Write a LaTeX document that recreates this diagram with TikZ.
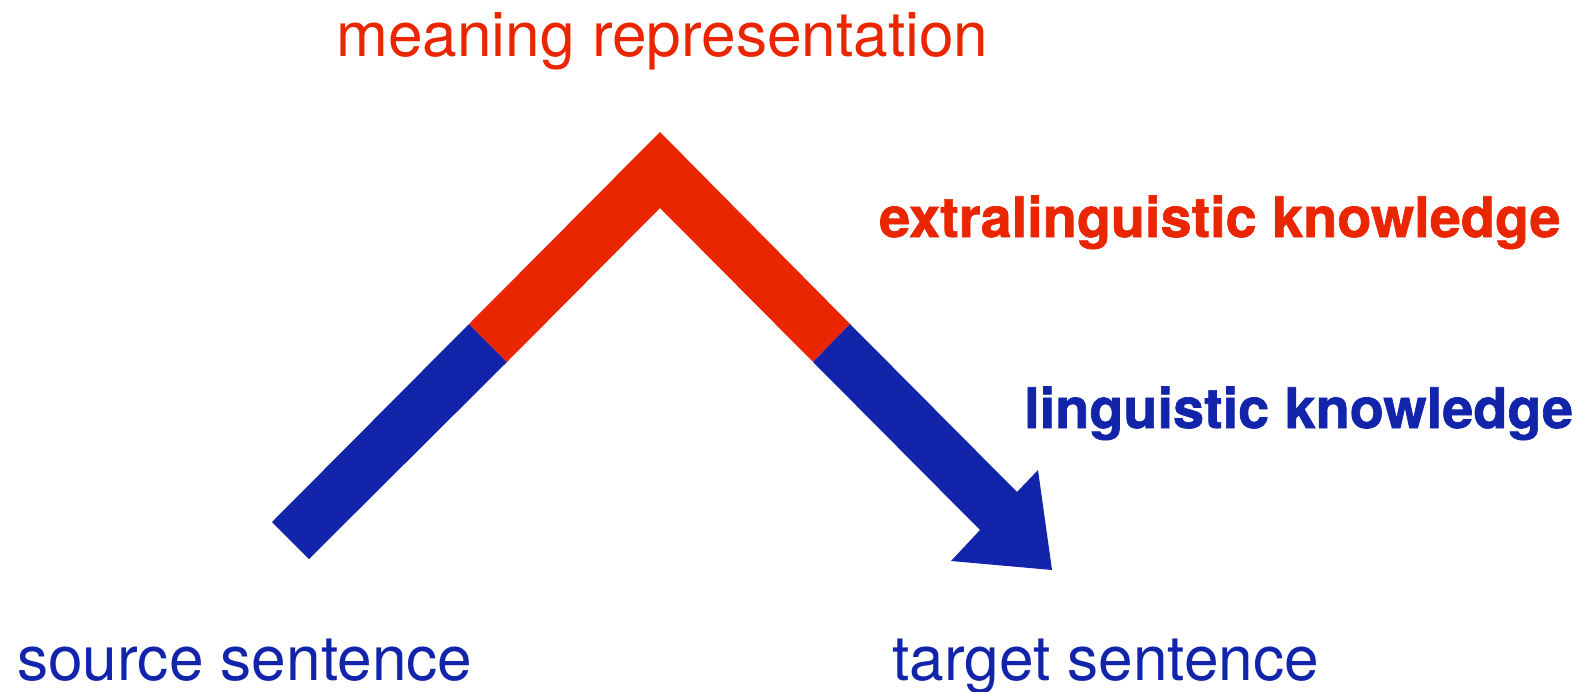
\documentclass[tikz,border=0pt]{standalone}
\usepackage{fontspec}
\setmainfont{TeX Gyre Heros}
\newfontfamily\heavyfont{TeX Gyre Heros}[BoldFeatures={FakeBold=1.2}]
\definecolor{kred}{RGB}{234,38,0}
\definecolor{kblue}{RGB}{18,36,170}
\begin{document}
\begin{tikzpicture}[x=1pt,y=-1pt,
  lbl/.style={inner sep=0pt,anchor=base west},
  plain/.style={lbl,font=\fontsize{62.2}{62}\selectfont},
  heavy/.style={lbl,font=\fontsize{55.8}{56}\selectfont\heavyfont\bfseries}]
\useasboundingbox (0,0) rectangle (1584,691);

% corner points of the bent band
\coordinate (sA) at (272,522);
\coordinate (sB) at (309,559);
\coordinate (lo) at (469,324);
\coordinate (li) at (507,362);
\coordinate (ao) at (660,132);
\coordinate (ai) at (660,208);
\coordinate (ro) at (850,324);
\coordinate (ri) at (813,362);
\coordinate (hA) at (1017,492);
\coordinate (hB) at (1038,470);
\coordinate (tip) at (1052,570);
\coordinate (hC) at (951,561);
\coordinate (hD) at (980,530);

% rising blue leg
\fill[kblue] (sA) -- (sB) -- (li) -- (lo) -- cycle;
% red chevron over the top
\fill[kred] (lo) -- (ao) -- (ro) -- (ri) -- (ai) -- (li) -- cycle;
% falling blue leg with arrowhead
\fill[kblue] (ro) -- (hA) -- (hB) -- (tip) -- (hC) -- (hD) -- (ri) -- cycle;

% labels
\node[plain,text=kred] (mr) at (336,56) {meaning representation};
\node[heavy,text=kred] (ek) at (879,237) {extralinguistic knowledge};
\node[heavy,text=kblue] (lk) at (1024,428) {linguistic knowledge};
\node[plain,text=kblue] (ss) at (17,680) {source sentence};
\node[plain,text=kblue] (ts) at (892,680) {target sentence};
\end{tikzpicture}
\end{document}
